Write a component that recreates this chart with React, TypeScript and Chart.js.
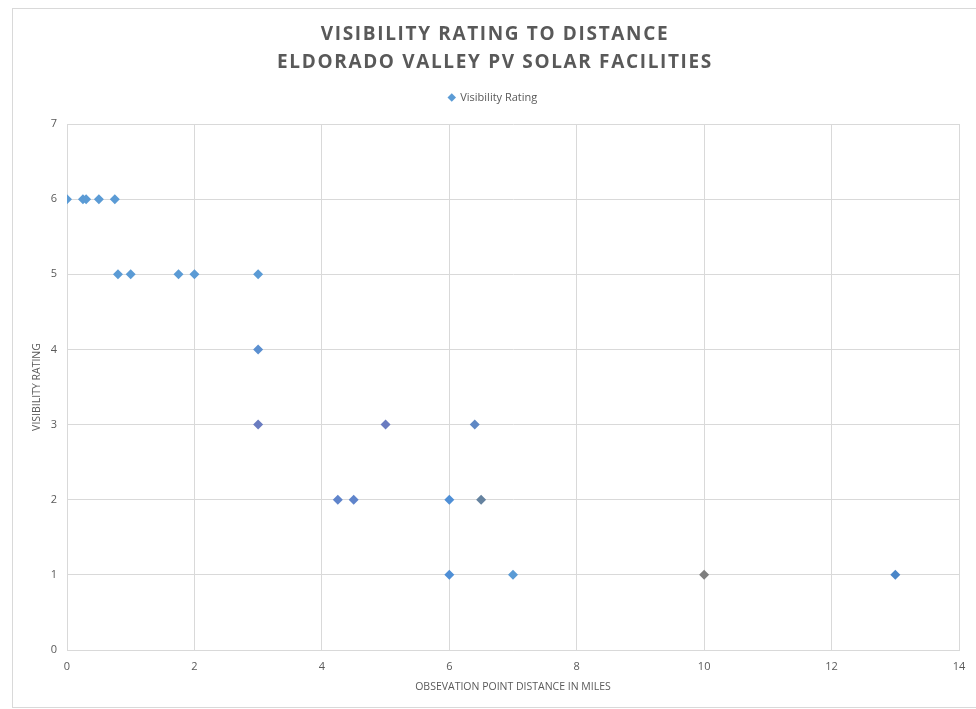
import React, { useEffect, useRef } from "react";
import { Chart, registerables } from "chart.js";

Chart.register(...registerables);

const titleLines = ["VISIBILITY RATING TO DISTANCE", "ELDORADO VALLEY PV SOLAR FACILITIES"];
const seriesName = "Visibility Rating";
const xAxisTitle = "OBSEVATION POINT DISTANCE IN MILES";
const yAxisTitle = "VISIBILITY RATING";

const distances = [0, 0.25, 0.3, 0.5, 0.75, 0.8, 1, 1.75, 2, 3, 3, 3, 5, 6.4, 4.25, 4.5, 6, 6.5, 6, 7, 10, 13];
const ratings = [6, 6, 6, 6, 6, 5, 5, 5, 5, 5, 4, 3, 3, 3, 2, 2, 2, 2, 1, 1, 1, 1];
const pointColors = [
  "#5B9BD5", "#5B9BD5", "#5B9BD5", "#5B9BD5", "#5B9BD5",
  "#5B9BD5", "#5B9BD5", "#5B9BD5", "#5B9BD5", "#5B9BD5",
  "#5B8FD0", "#6A7CC0", "#6A7CC0", "#5F88C4",
  "#5F84CB", "#5F84CB", "#4F8FD6", "#65829F",
  "#4F8FD6", "#5B9BD5", "#7F7F7F", "#4A86C8",
];

const xMin = 0, xMax = 14, xStep = 2;
const yMin = 0, yMax = 7, yStep = 1;

const GRID = "#d9d9d9";
const TEXT = "#595959";
const FONT = "'Open Sans', 'Noto Sans', sans-serif";

const framePlugin = {
  id: "frame",
  beforeDraw(chart: any) {
    const { ctx, width, height } = chart;
    ctx.save();
    ctx.fillStyle = "#ffffff";
    ctx.fillRect(0, 0, width, height);
    ctx.strokeStyle = "#d9d9d9";
    ctx.lineWidth = 1;
    ctx.strokeRect(12.5, 8.5, width, height - 10);
    ctx.restore();
  },
};

const titleSpacingPlugin = {
  id: "titleSpacing",
  afterLayout(chart: any) {
    const tb = chart.titleBlock;
    if (tb && !tb.__spaced) {
      const orig = tb.draw;
      tb.draw = function (...args: any[]) {
        const ctx = this.ctx;
        ctx.save();
        (ctx as any).letterSpacing = "1.65px";
        ctx.translate(2, 0);
        orig.apply(this, args);
        ctx.restore();
      };
      tb.__spaced = true;
    }
  },
};

export default function App() {
  const ref = useRef<HTMLCanvasElement | null>(null);
  useEffect(() => {
    if (!ref.current) return;
    const data = distances.map((x, i) => ({ x, y: ratings[i] }));
    const chart = new Chart(ref.current, {
      type: "scatter",
      data: {
        datasets: [
          {
            label: seriesName,
            data,
            pointStyle: "rectRot",
            pointRadius: 5,
            pointHoverRadius: 5,
            backgroundColor: pointColors,
            borderColor: pointColors,
            borderWidth: 0,
          },
        ],
      },
      options: {
        animation: false,
        responsive: true,
        maintainAspectRatio: false,
        layout: { padding: { left: 27, right: 17, top: 8, bottom: 12 } },
        plugins: {
          title: {
            display: true,
            text: titleLines,
            color: TEXT,
            font: { family: FONT, size: 19, weight: "bold", lineHeight: 28 / 19 },
            padding: { top: 13, bottom: 7 },
          },
          subtitle: {
            display: true,
            text: "",
            weight: 500,
            font: { family: FONT, size: 10, lineHeight: 1 },
            padding: { top: 0, bottom: 1 },
          },
          legend: {
            display: true,
            position: "top",
            labels: {
              usePointStyle: true,
              pointStyle: "rectRot",
              boxWidth: 6,
              boxHeight: 6,
              color: TEXT,
              font: { family: FONT, size: 11 },
              padding: 8,
            },
          },
          tooltip: { enabled: false },
        },
        scales: {
          x: {
            type: "linear",
            min: xMin,
            max: xMax,
            ticks: { stepSize: xStep, color: TEXT, font: { family: FONT, size: 11 }, padding: 10 },
            grid: { color: GRID, drawTicks: false },
            border: { color: GRID },
            title: { display: true, text: xAxisTitle, color: TEXT, font: { family: FONT, size: 10.5 }, padding: { top: 4, bottom: 4 } },
            afterFit: (s: any) => { s.height = 47; },
          },
          y: {
            type: "linear",
            min: yMin,
            max: yMax,
            ticks: { stepSize: yStep, color: TEXT, font: { family: FONT, size: 11 }, padding: 10 },
            grid: { color: GRID, drawTicks: false },
            border: { color: GRID },
            title: { display: true, text: yAxisTitle, color: TEXT, font: { family: FONT, size: 10.5 }, padding: { top: 4, bottom: 4 } },
            afterFit: (s: any) => { s.width = 40; },
          },
        },
      },
      plugins: [framePlugin, titleSpacingPlugin],
    });
    return () => chart.destroy();
  }, []);
  return (
    <div style={{ position: "fixed", left: 0, top: 0, width: 976, height: 709 }}>
      <canvas ref={ref} />
    </div>
  );
}
